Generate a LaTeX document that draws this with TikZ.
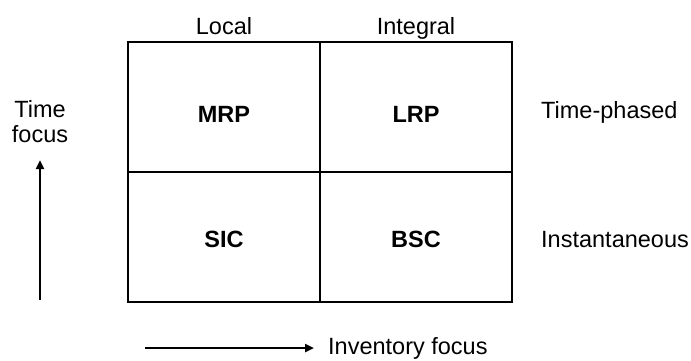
\documentclass[tikz,border=0pt]{standalone}
\usepackage{fontspec}
\setmainfont{Liberation Sans}
\usetikzlibrary{arrows.meta,positioning}

\begin{document}
\begin{tikzpicture}[
    x=1pt, y=-1pt,
    >={Triangle[length=9pt,width=8pt]},
    txt/.style={font=\fontsize{23.5}{25}\selectfont, inner sep=0pt, anchor=base},
    cell/.style={txt, font=\fontsize{23.5}{25}\selectfont\bfseries},
    axis/.style={->, line width=2.5pt},
]
\useasboundingbox (0,0) rectangle (691,360);

% matrix frame
\coordinate (nw) at (128,42);
\coordinate (se) at (512,302);
\draw[line width=1.2pt] (nw) rectangle (se);
\draw[line width=1.2pt] (320,42) -- (320,302);
\draw[line width=1.2pt] (128,172) -- (512,172);

% column and row headings
\node[txt] (local) at (224,34) {Local};
\node[txt] (integral) at (416,34) {Integral};
\node[txt, anchor=base west] (phased) at (541,118) {Time-phased};
\node[txt, anchor=base west] (instant) at (541,247) {Instantaneous};

% cells
\node[cell] (mrp) at (224,122) {MRP};
\node[cell] (lrp) at (416,122) {LRP};
\node[cell] (sic) at (224,247) {SIC};
\node[cell] (bsc) at (416,247) {BSC};

% axes
\node[txt, align=center] (time) at (40,142) {Time\\focus};
\coordinate (tlow) at (40,300);
\coordinate (thigh) at (40,160);
\draw[axis] (tlow) -- (thigh);

\coordinate (ileft) at (145,348);
\coordinate (iright) at (314,348);
\node[txt, anchor=west] (inv) at (328,348) {Inventory focus};
\draw[axis] (ileft) -- (iright);
\end{tikzpicture}
\end{document}
